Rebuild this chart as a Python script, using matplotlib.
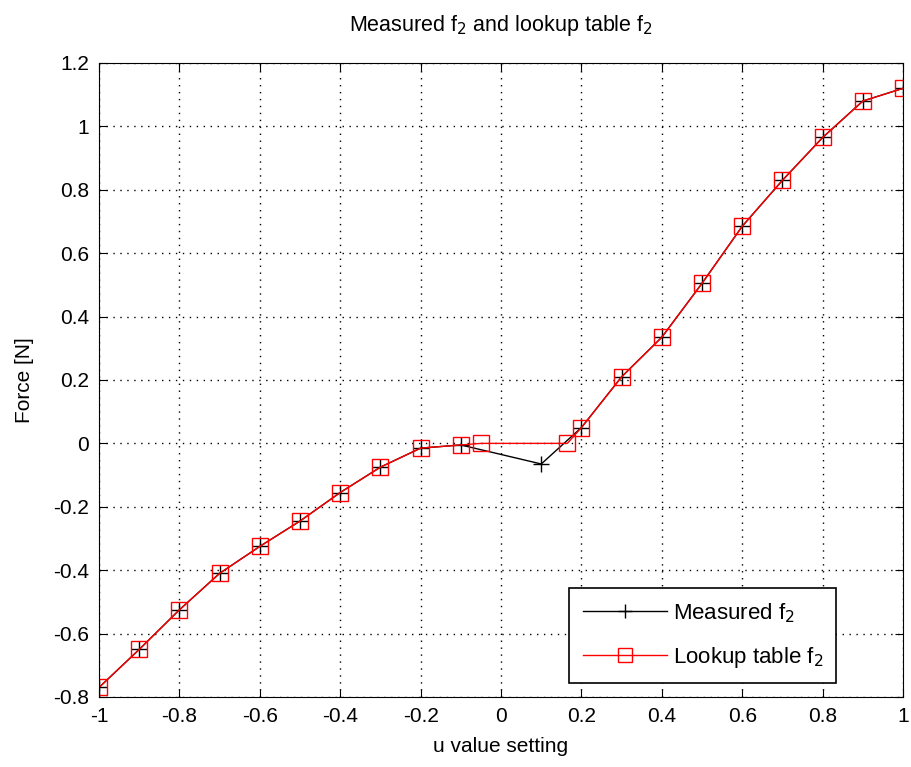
# Measured f2 vs lookup table f2
import numpy as np
import matplotlib
matplotlib.use("Agg")
import matplotlib.pyplot as plt

plt.rcParams['font.family'] = ['Liberation Sans', 'DejaVu Sans']

# Measured force
u_meas = [-1.0, -0.9, -0.8, -0.7, -0.6, -0.5, -0.4, -0.3, -0.2, -0.1,
          0.1, 0.2, 0.3, 0.4, 0.5, 0.6, 0.7, 0.8, 0.9, 1.0]
f_meas = [-0.77, -0.65, -0.525, -0.41, -0.325, -0.245, -0.155, -0.075, -0.015, -0.005,
          -0.065, 0.05, 0.21, 0.335, 0.505, 0.685, 0.83, 0.965, 1.08, 1.12]

# Lookup table force
u_lut = [-1.0, -0.9, -0.8, -0.7, -0.6, -0.5, -0.4, -0.3, -0.2, -0.1, -0.05,
         0.165, 0.2, 0.3, 0.4, 0.5, 0.6, 0.7, 0.8, 0.9, 1.0]
f_lut = [-0.77, -0.65, -0.525, -0.41, -0.325, -0.245, -0.155, -0.075, -0.015, -0.005, 0.0,
         0.0, 0.05, 0.21, 0.335, 0.505, 0.685, 0.83, 0.965, 1.08, 1.12]

fig = plt.figure(figsize=(9.11, 7.67), dpi=100)
ax = fig.add_axes([0.1087, 0.0913, 0.8826, 0.8266])

ax.plot(u_meas, f_meas, color='black', lw=1, marker='+', ms=11, mew=1,
        label='Measured f$_2$')
ax.plot(u_lut, f_lut, color='red', lw=1, marker='s', ms=11, mfc='none', mew=1,
        label='Lookup table f$_2$')

ax.set_xlim(-1, 1)
ax.set_ylim(-0.8, 1.2)
ax.set_xticks(np.arange(-1, 1.01, 0.2))
ax.set_yticks(np.arange(-0.8, 1.21, 0.2))
ax.set_xticklabels(['-1', '-0.8', '-0.6', '-0.4', '-0.2', '0', '0.2', '0.4', '0.6', '0.8', '1'])
ax.set_yticklabels(['-0.8', '-0.6', '-0.4', '-0.2', '0', '0.2', '0.4', '0.6', '0.8', '1', '1.2'])
ax.tick_params(direction='in', top=True, right=True, length=6, labelsize=15, pad=7)
ax.grid(True, color='black', linestyle=(0, (1, 4)), lw=1)

ax.set_title('Measured f$_2$ and lookup table f$_2$', fontsize=15.5, pad=23)
ax.set_xlabel('u value setting', fontsize=15, labelpad=8)
ax.set_ylabel('Force [N]', fontsize=15, labelpad=14)

leg = ax.legend(loc='lower right', bbox_to_anchor=(0.917, 0.022), borderaxespad=0,
                fancybox=False, edgecolor='black', framealpha=1, fontsize=16,
                handlelength=3.8, handletextpad=0.25, borderpad=0.6, labelspacing=0.9,
                markerscale=0.9)
leg.get_frame().set_linewidth(1.2)

fig.savefig('out.png', dpi=100)
